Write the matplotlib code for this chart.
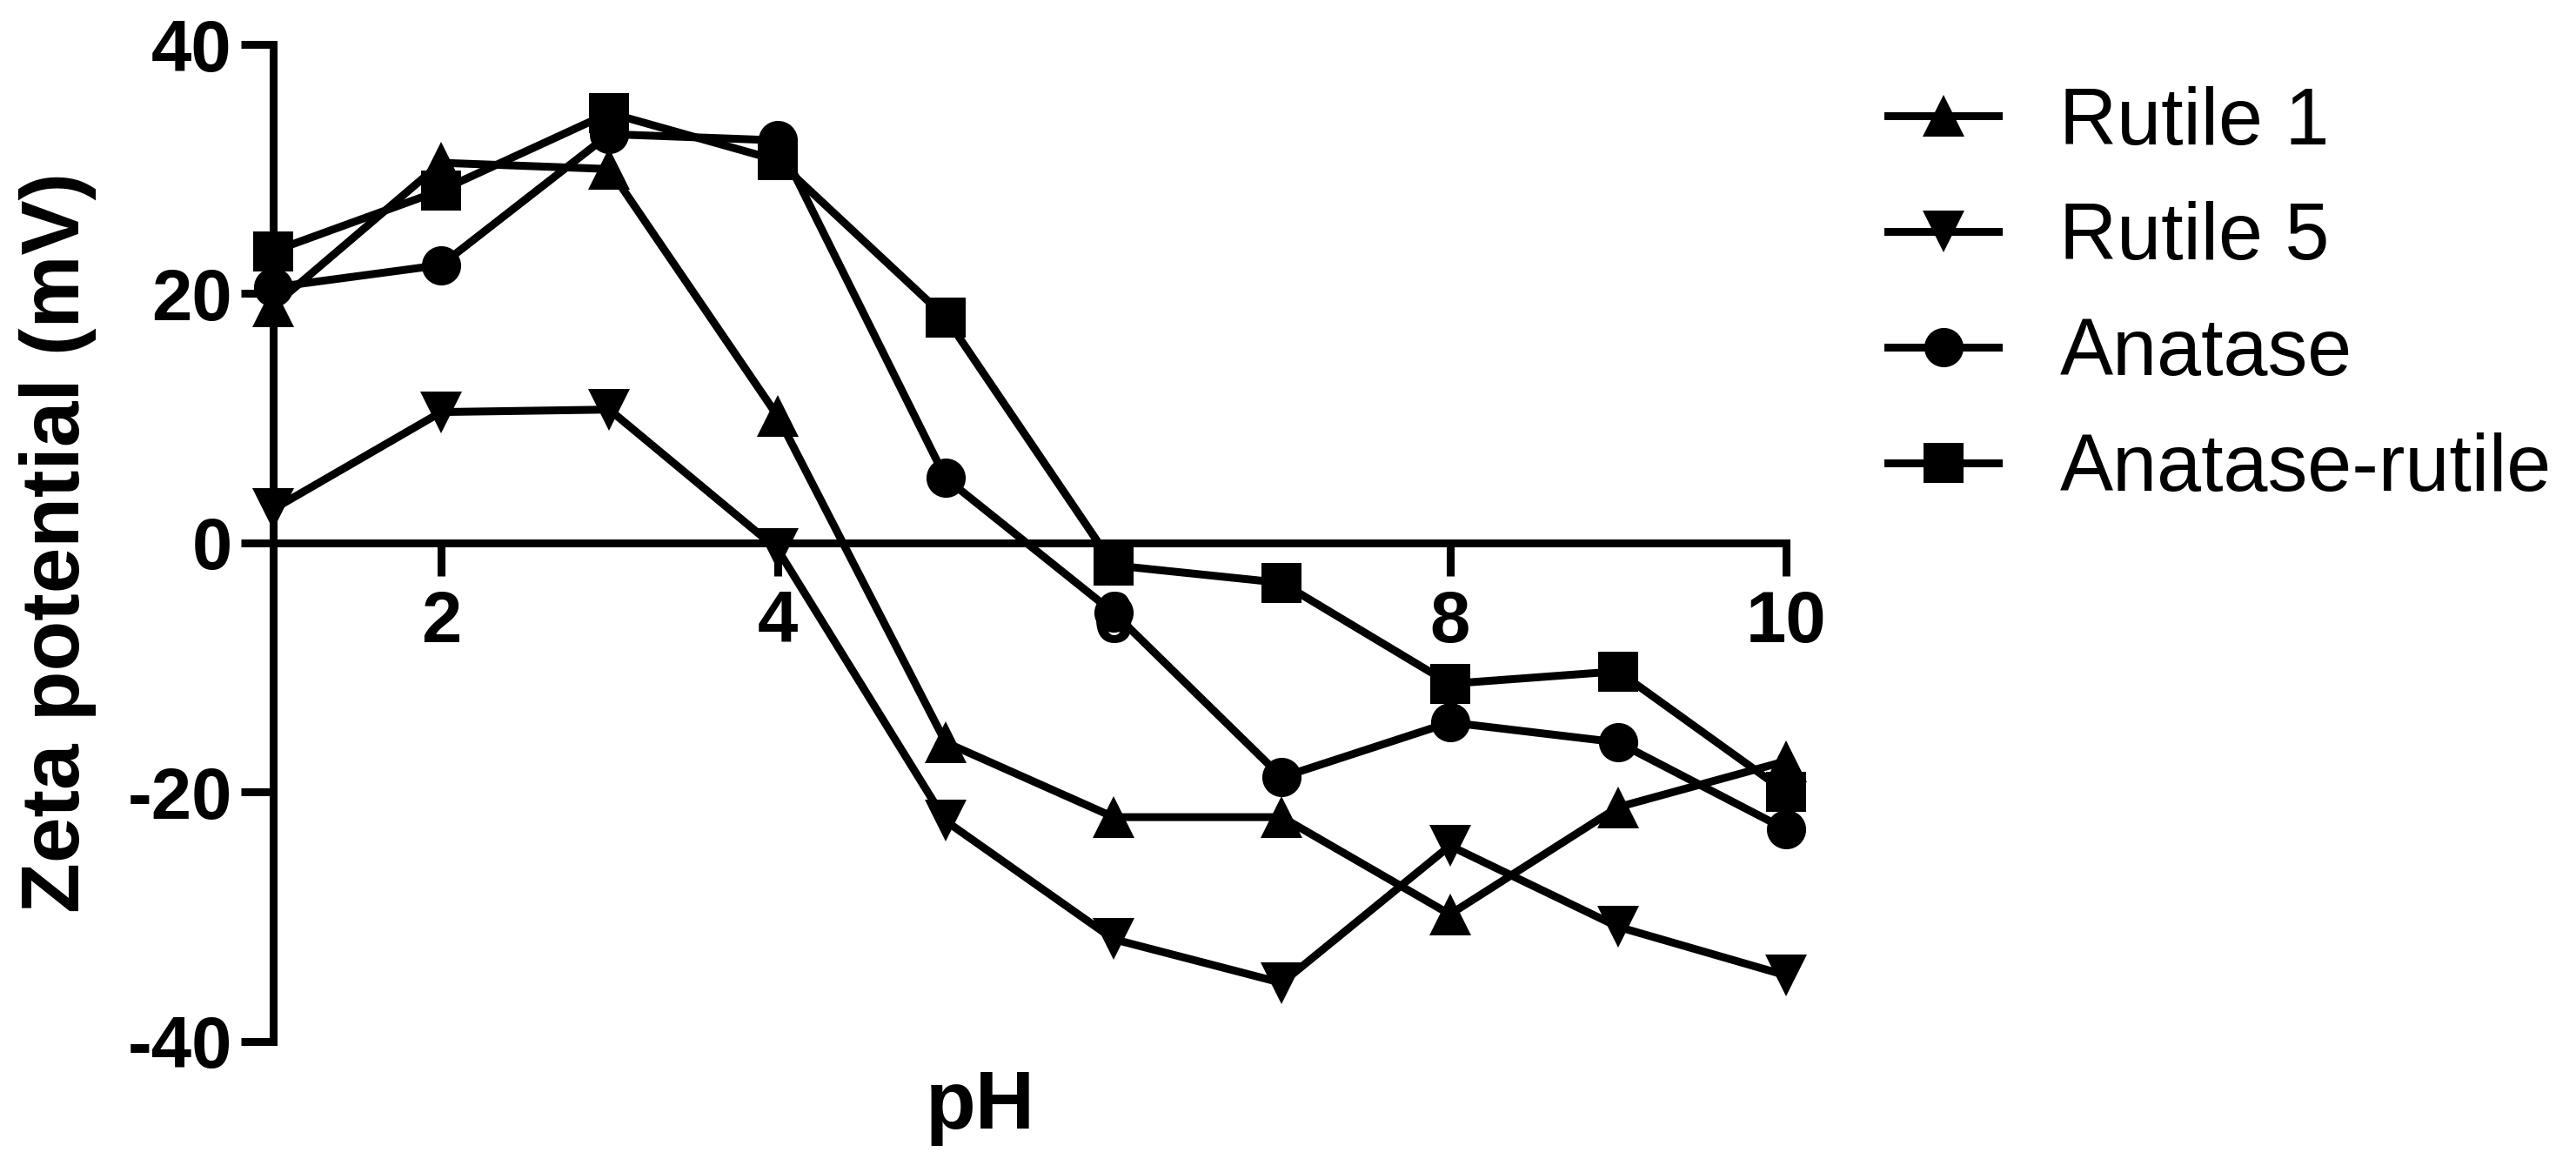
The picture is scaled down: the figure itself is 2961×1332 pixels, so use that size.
import matplotlib
matplotlib.use('Agg')
import matplotlib.pyplot as plt

plt.rcParams['font.family'] = ['Liberation Sans', 'DejaVu Sans']
plt.rcParams['axes.unicode_minus'] = False

ph = [1, 2, 3, 4, 5, 6, 7, 8, 9, 10]
rutile1 = [19, 30.5, 30, 10.2, -16, -22, -22, -29.8, -21.2, -17.5]
rutile5 = [2.7, 10.5, 10.7, -0.5, -22.3, -31.8, -35.3, -24.3, -30.8, -34.7]
anatase = [20.5, 22.3, 32.8, 32.3, 5.2, -5.6, -18.8, -14.4, -16, -23]
anatase_rutile = [23.4, 28.3, 34.5, 30.7, 18.1, -1.8, -3.2, -11.3, -10.3, -20]

labels = ['Rutile 1', 'Rutile 5', 'Anatase', 'Anatase-rutile']
markers = ['^', 'v', 'o', 's']
sizes = [34, 34, 32.5, 33]
xticks = [2, 4, 6, 8, 10]
yticks = [-40, -20, 0, 20, 40]

fig = plt.figure(figsize=(29.61, 13.32), dpi=100)
ax = fig.add_axes([0.106, 0.1014, 0.5874, 0.8603])

lw = 6.5
for y, lab, m, s in zip([rutile1, rutile5, anatase, anatase_rutile], labels, markers, sizes):
    ax.plot(ph, y, color='black', lw=lw, marker=m, ms=s, mew=0,
            label=lab, clip_on=False, zorder=3)

ax.set_xlim(1, 10)
ax.set_ylim(-40, 40)
ax.set_xticks(xticks)
ax.set_yticks(yticks)

ax.spines['bottom'].set_position(('data', 0))
ax.spines['top'].set_visible(False)
ax.spines['right'].set_visible(False)
for sp in ['bottom', 'left']:
    ax.spines[sp].set_linewidth(lw)
    ax.spines[sp].set_capstyle('projecting')

ax.tick_params(axis='both', length=27, width=lw, direction='out', labelsize=60)
ax.tick_params(axis='x', pad=11)
ax.tick_params(axis='y', pad=7)
for t in ax.get_xticklabels() + ax.get_yticklabels():
    t.set_fontweight('bold')

ax.text(-0.142, 0.5, 'Zeta potential (mV)', transform=ax.transAxes, rotation=90,
        ha='center', va='center', fontsize=68, fontweight='bold')
ax.text(0.4676, -0.0874, 'pH', transform=ax.transAxes, ha='center', va='baseline',
        fontsize=68, fontweight='bold')

leg = fig.legend(loc='upper left', bbox_to_anchor=(0.733, 0.926), frameon=False,
                 fontsize=66, handlelength=1.38, handletextpad=0.77,
                 labelspacing=0.51, borderpad=0, borderaxespad=0)

fig.savefig('out.png', dpi=100)
